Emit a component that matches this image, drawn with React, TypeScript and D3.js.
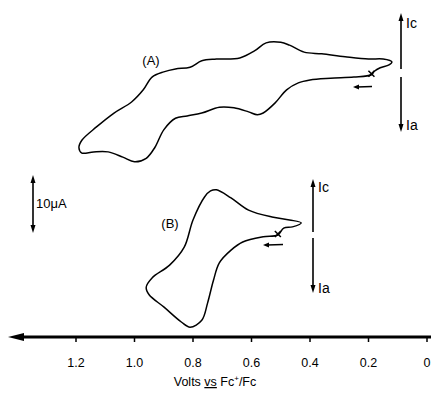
import React from "react";
import * as d3 from "d3";

// potential (V vs Fc+/Fc), current (μA, cathodic positive) relative to each trace's start
const curveA_V = [0.19,0.25,0.33,0.40,0.44,0.48,0.52,0.56,0.58,0.61,0.66,0.71,0.77,0.82,0.86,0.90,0.93,0.96,1.00,1.04,1.09,1.14,1.18,1.19,1.18,1.13,1.07,1.01,0.97,0.94,0.90,0.86,0.81,0.77,0.72,0.64,0.59,0.55,0.50,0.47,0.42,0.36,0.28,0.20,0.15,0.12,0.13,0.16,0.18];
const curveA_I = [-0.3,-0.7,-0.9,-1.2,-1.7,-2.9,-5.2,-6.9,-7.2,-6.7,-6.0,-5.9,-6.9,-7.4,-7.8,-9.8,-12.8,-14.7,-15.3,-14.5,-13.6,-13.6,-13.8,-12.9,-11.6,-9.3,-6.9,-5.0,-2.9,-0.7,0.2,0.7,1.0,2.1,2.4,2.6,3.8,5.2,5.3,4.8,3.6,3.3,2.8,2.4,2.4,1.9,1.4,0.9,0.3];

const curveB_V = [0.51,0.56,0.63,0.67,0.71,0.73,0.75,0.77,0.81,0.84,0.90,0.95,0.96,0.94,0.88,0.83,0.80,0.76,0.74,0.72,0.67,0.61,0.53,0.47,0.43,0.46,0.49];
const curveB_I = [0,-0.3,-1.2,-2.6,-4.8,-7.8,-11.7,-14.7,-15.9,-15.0,-12.4,-10.3,-9.0,-7.4,-5.2,-2.1,2.6,6.6,7.6,7.8,6.4,4.3,3.1,2.6,2.1,1.4,1.2];

const tickValues = [1.2, 1.0, 0.8, 0.6, 0.4, 0.2, 0];
const tickLabels = ["1.2", "1.0", "0.8", "0.6", "0.4", "0.2", "0"];
const scaleBar = 10; // μA

const font = "'Liberation Sans', Arial, sans-serif";

export default function App() {
  const x = d3.scaleLinear().domain([0, 1.2]).range([427, 76]);
  const pxPerUA = 5.8;
  const yA = d3.scaleLinear().domain([0, 1]).range([73, 73 - pxPerUA]);
  const yB = d3.scaleLinear().domain([0, 1]).range([235, 235 - pxPerUA]);
  const axisY = 337;

  const lineA = d3.line<number>()
    .x((_, i) => x(curveA_V[i]))
    .y((_, i) => yA(curveA_I[i]))
    .curve(d3.curveCatmullRomClosed.alpha(0.5));
  const lineB = d3.line<number>()
    .x((_, i) => x(curveB_V[i]))
    .y((_, i) => yB(curveB_I[i]))
    .curve(d3.curveCatmullRomClosed.alpha(0.5));

  const arrowUp = (cx: number, y1: number, y2: number) => (
    <g>
      <line x1={cx} x2={cx} y1={y1} y2={y2 + 5} stroke="#000" strokeWidth={1.6} />
      <path d={`M${cx - 2.5},${y2 + 8} L${cx},${y2} L${cx + 2.5},${y2 + 8} Z`} fill="#000" />
    </g>
  );
  const arrowDown = (cx: number, y1: number, y2: number) => (
    <g>
      <line x1={cx} x2={cx} y1={y1} y2={y2 - 5} stroke="#000" strokeWidth={1.6} />
      <path d={`M${cx - 2.5},${y2 - 8} L${cx},${y2} L${cx + 2.5},${y2 - 8} Z`} fill="#000" />
    </g>
  );
  const cross = (cx: number, cy: number) => (
    <g stroke="#000" strokeWidth={1.5}>
      <line x1={cx - 3} y1={cy - 3} x2={cx + 3} y2={cy + 3} />
      <line x1={cx - 3} y1={cy + 3} x2={cx + 3} y2={cy - 3} />
    </g>
  );
  const leftArrow = (x1: number, x2: number, cy: number) => (
    <g>
      <line x1={x1} x2={x2 + 4} y1={cy - 0.5} y2={cy} stroke="#000" strokeWidth={1.4} />
      <path d={`M${x2 + 6},${cy - 2.5} L${x2},${cy} L${x2 + 6},${cy + 2.5} Z`} fill="#000" />
    </g>
  );

  const barTop = 175;
  const barBottom = barTop + scaleBar * pxPerUA;

  return (
    <svg width={431} height={393} style={{ position: "absolute", left: 0, top: 0, background: "#fff" }} fontFamily={font}>
      <path d={lineA(curveA_V) || ""} fill="none" stroke="#000" strokeWidth={1.5} />
      <path d={lineB(curveB_V) || ""} fill="none" stroke="#000" strokeWidth={1.5} />

      {cross(x(curveA_V[0]), yA(curveA_I[0]) - 1)}
      {cross(x(curveB_V[0]), yB(curveB_I[0]) - 1)}
      {leftArrow(372, 353, 87)}
      {leftArrow(283, 263, 245)}

      <text x={151} y={65} fontSize={13} textAnchor="middle">(A)</text>
      <text x={170} y={228} fontSize={13} textAnchor="middle">(B)</text>

      {arrowUp(401, 69, 13)}
      {arrowDown(401, 77, 132)}
      <text x={406} y={28} fontSize={14}>Ic</text>
      <text x={406} y={130} fontSize={14}>Ia</text>

      {arrowUp(313, 232, 179)}
      {arrowDown(313, 238, 293)}
      <text x={318} y={192} fontSize={14}>Ic</text>
      <text x={318} y={293} fontSize={14}>Ia</text>

      {arrowUp(33, barTop + 20, barTop)}
      {arrowDown(33, barTop + 20, barBottom)}
      <text x={36} y={208} fontSize={13}>10μA</text>

      <line x1={16} x2={431} y1={axisY} y2={axisY} stroke="#000" strokeWidth={3} />
      <path d={`M8,${axisY} L24,${axisY - 4} L24,${axisY + 4} Z`} fill="#000" />
      {tickValues.map((v, i) => (
        <g key={i}>
          <line x1={x(v)} x2={x(v)} y1={axisY} y2={axisY + 5} stroke="#000" strokeWidth={1.5} />
          <text x={x(v)} y={367} fontSize={12.5} textAnchor="middle">{tickLabels[i]}</text>
        </g>
      ))}
      <text x={215} y={386} fontSize={12.5} textAnchor="middle">
        Volts <tspan textDecoration="underline">vs</tspan> Fc<tspan dy={-5} fontSize={8}>+</tspan><tspan dy={5}>/Fc</tspan>
      </text>
    </svg>
  );
}
